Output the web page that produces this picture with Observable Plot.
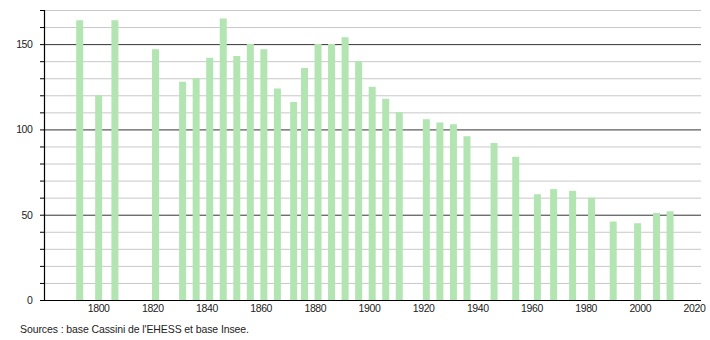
<!DOCTYPE html>
<html>
<head>
<meta charset="utf-8">
<script src="https://cdn.jsdelivr.net/npm/d3@7"></script>
<script src="https://cdn.jsdelivr.net/npm/@observablehq/plot@0.6"></script>
<style>
  html, body { margin: 0; padding: 0; background: #fff; }
  #chart { position: relative; width: 710px; height: 340px; }
  #caption { position: absolute; left: 20px; top: 323px; font: 10.5px "Liberation Sans", Arial, sans-serif; letter-spacing: -0.1px; color: #222; }
</style>
</head>
<body>
<div id="chart"><div id="caption">Sources : base Cassini de l'EHESS et base Insee.</div></div>
<script>
const years = [1793, 1800, 1806, 1821, 1831, 1836, 1841, 1846, 1851, 1856, 1861, 1866, 1872, 1876, 1881, 1886, 1891, 1896, 1901, 1906, 1911, 1921, 1926, 1931, 1936, 1946, 1954, 1962, 1968, 1975, 1982, 1990, 1999, 2006, 2011];
const population = [164, 120, 164, 147, 128, 130, 142, 165, 143, 150, 147, 124, 116, 136, 150, 150, 154, 140, 125, 118, 110, 106, 104, 103, 96, 92, 84, 62, 65, 64, 60, 46, 45, 51, 52];
const xTicks = [1800, 1820, 1840, 1860, 1880, 1900, 1920, 1940, 1960, 1980, 2000, 2020];
const yTicks = [0, 10, 20, 30, 40, 50, 60, 70, 80, 90, 100, 110, 120, 130, 140, 150, 160, 170];
const yLabels = [0, 50, 100, 150];

const data = years.map((y, i) => ({year: y, pop: population[i]}));
const minor = yTicks.filter(t => t > 0 && !yLabels.includes(t));
const major = yLabels.filter(t => t > 0);

const chart = Plot.plot({
  width: 710,
  height: 318,
  marginLeft: 44,
  marginRight: 9,
  marginTop: 10,
  marginBottom: 18,
  style: {fontFamily: "'Liberation Sans', Arial, sans-serif", fontSize: "10.5px", letterSpacing: "-0.4px", color: "#222", background: "#fff"},
  x: {domain: [1780, 2022.6]},
  y: {domain: [0, 170]},
  marks: [
    Plot.ruleY(minor, {stroke: "#c8c8c8", strokeWidth: 1}),
    Plot.ruleY(major, {stroke: "#333", strokeWidth: 1}),
    Plot.ruleX(data, {x: "year", y1: 0, y2: "pop", stroke: "#b2e5b2", strokeWidth: 7}),
    Plot.ruleY([0], {stroke: "#000", strokeWidth: 1.2}),
    Plot.ruleX([1780], {y1: 0, y2: 170, stroke: "#000", strokeWidth: 1.2}),
    Plot.axisY({ticks: yTicks, tickSize: 4, tickPadding: 8, tickFormat: d => yLabels.includes(d) ? String(d) : "", stroke: "#000", label: null}),
    Plot.axisX({ticks: xTicks, tickSize: 0, tickPadding: 4, tickFormat: d => String(d), label: null})
  ]
});
document.getElementById("chart").prepend(chart);
</script>
</body>
</html>
